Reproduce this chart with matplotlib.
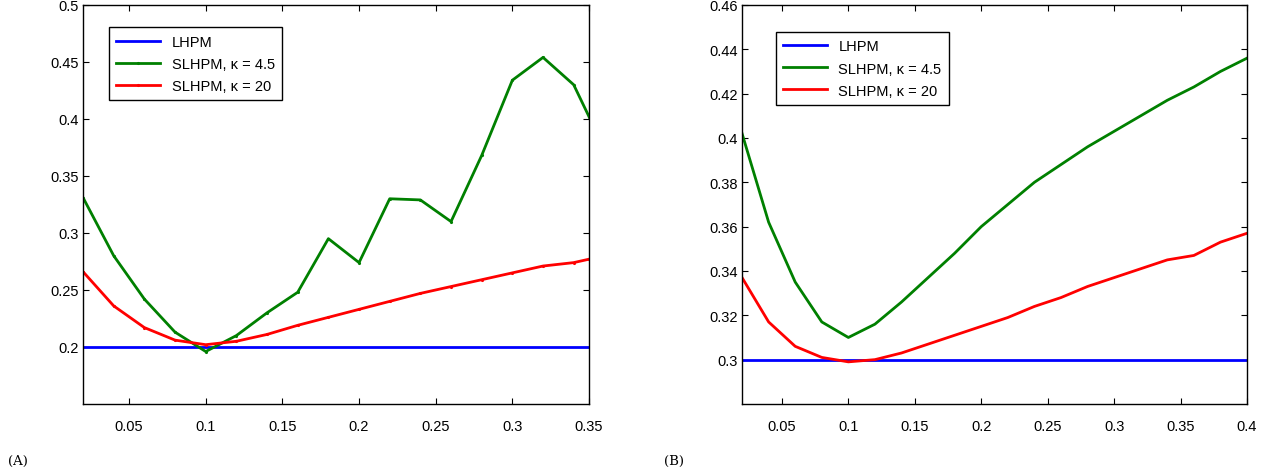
import numpy as np
import matplotlib
matplotlib.use("Agg")
import matplotlib.pyplot as plt

# Panel A data (step 0.02, last point at 0.35)
xA = [0.02, 0.04, 0.06, 0.08, 0.10, 0.12, 0.14, 0.16, 0.18, 0.20,
      0.22, 0.24, 0.26, 0.28, 0.30, 0.32, 0.34, 0.35]
lhpmA = [0.2] * len(xA)
slhpm45A = [0.331, 0.280, 0.242, 0.213, 0.196, 0.210, 0.230, 0.248, 0.295, 0.274,
            0.330, 0.329, 0.310, 0.368, 0.434, 0.454, 0.430, 0.402]
slhpm20A = [0.266, 0.236, 0.217, 0.206, 0.202, 0.205, 0.211, 0.219, 0.226, 0.233,
            0.240, 0.247, 0.253, 0.259, 0.265, 0.271, 0.274, 0.277]

# Panel B data
xB = [0.02, 0.04, 0.06, 0.08, 0.10, 0.12, 0.14, 0.16, 0.18, 0.20,
      0.22, 0.24, 0.26, 0.28, 0.30, 0.32, 0.34, 0.36, 0.38, 0.40]
lhpmB = [0.3] * len(xB)
slhpm45B = [0.402, 0.362, 0.335, 0.317, 0.310, 0.316, 0.326, 0.337, 0.348, 0.360,
            0.370, 0.380, 0.388, 0.396, 0.403, 0.410, 0.417, 0.423, 0.430, 0.436]
slhpm20B = [0.337, 0.317, 0.306, 0.301, 0.299, 0.300, 0.303, 0.307, 0.311, 0.315,
            0.319, 0.324, 0.328, 0.333, 0.337, 0.341, 0.345, 0.347, 0.353, 0.357]

labels = ["LHPM", "SLHPM, \u03ba = 4.5", "SLHPM, \u03ba = 20"]
colors = ["#0000ff", "#008000", "#ff0000"]

plt.rcParams["font.family"] = ["Liberation Sans", "DejaVu Sans"]


def plotPanel(ax, x, series, xlim, ylim, yticks, xticks, marker, anchor):
    for yy, lab, col in zip(series, labels, colors):
        mk = marker if col != "#0000ff" else None
        ax.plot(x, yy, color=col, lw=2.0, label=lab, marker=mk, markersize=2.5)
    ax.set_xlim(*xlim)
    ax.set_ylim(*ylim)
    ax.set_xticks(xticks)
    ax.set_yticks(yticks)
    ax.set_xticklabels(["%g" % t for t in xticks])
    ax.set_yticklabels(["%g" % t for t in yticks])
    ax.tick_params(direction="in", top=True, right=True, length=4, width=0.8,
                   labelsize=10.5)
    ax.tick_params(axis="x", pad=11)
    ax.tick_params(axis="y", pad=3)
    for sp in ax.spines.values():
        sp.set_linewidth(1.0)
    leg = ax.legend(loc="upper left", bbox_to_anchor=anchor, fontsize=10.5,
                    fancybox=False, framealpha=1, edgecolor="black",
                    handlelength=3.0, borderpad=0.5, labelspacing=0.55)
    leg.get_frame().set_linewidth(1.0)


fig = plt.figure(figsize=(12.7, 4.77), dpi=100)
axA = fig.add_axes([0.0654, 0.151, 0.3984, 0.8365])
axB = fig.add_axes([0.5843, 0.151, 0.3976, 0.8365])

plotPanel(axA, xA, [lhpmA, slhpm45A, slhpm20A], (0.02, 0.35), (0.15, 0.5),
          [0.2, 0.25, 0.3, 0.35, 0.4, 0.45, 0.5],
          [0.05, 0.1, 0.15, 0.2, 0.25, 0.3, 0.35], ".", (0.037, 0.962))
plotPanel(axB, xB, [lhpmB, slhpm45B, slhpm20B], (0.02, 0.4), (0.28, 0.46),
          [0.3, 0.32, 0.34, 0.36, 0.38, 0.4, 0.42, 0.44, 0.46],
          [0.05, 0.1, 0.15, 0.2, 0.25, 0.3, 0.35, 0.4], None, (0.052, 0.95))

fig.text(0.006, 0.025, "(A)", family="DejaVu Serif", fontsize=9.5)
fig.text(0.523, 0.025, "(B)", family="DejaVu Serif", fontsize=9.5)

fig.savefig("out.png", dpi=100)
